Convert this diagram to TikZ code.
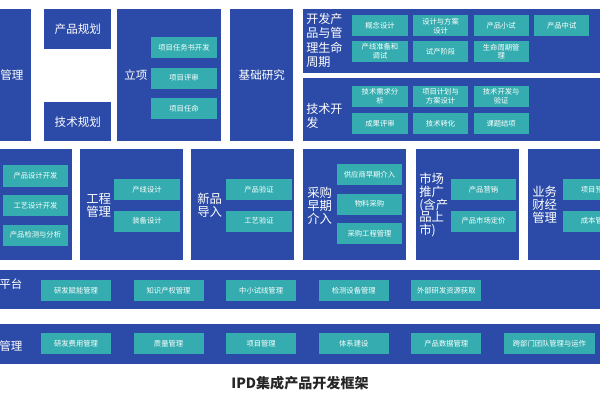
\documentclass[tikz,border=0pt]{standalone}
\usepackage{fontspec}
\setmainfont{Noto Sans CJK SC}
\usetikzlibrary{positioning}
\definecolor{ipdblue}{HTML}{2C4BA8}
\definecolor{ipdteal}{HTML}{35ADB0}
\tikzstyle{block} = [rectangle, anchor=north west, inner sep=0pt, fill=ipdblue, text=white, font=\fontsize{8.2}{10}\selectfont]
\tikzstyle{blocklabel} = [anchor=west, inner sep=0pt, align=left, text=white, font=\fontsize{8.8}{9.2}\selectfont]
\tikzstyle{item} = [rectangle, inner sep=0pt, minimum width=1.625cm, minimum height=0.525cm, align=center, fill=ipdteal, text=white, font=\fontsize{5.2}{6.2}\selectfont]
\tikzstyle{lcitem} = [item, minimum width=1.375cm]
\tikzstyle{bandi} = [item, minimum width=1.75cm]

\begin{document}
\begin{tikzpicture}[x=0.025cm, y=-0.025cm, node distance=0.2cm]
\useasboundingbox (0,0) rectangle (600,400);

% top row
\node (mgmtL) [block, minimum width=0.975cm, minimum height=3.3cm] at (-8,9) {管理};
\node (plan) [block, minimum width=1.675cm, minimum height=1cm] at (44,9) {产品规划};
\node (techplan) [block, minimum width=1.675cm, minimum height=0.975cm] at (44,102) {技术规划};

\node (lixiang) [block, minimum width=2.6cm, minimum height=3.3cm] at (117,9) {};
\node (lixiang-t) [blocklabel, font=\fontsize{8.2}{10}\selectfont] at (124,75) {立项};
\node (lx1) [item] at (184,47.5) {项目任务书开发};
\node (lx2) [item, below=0.225cm of lx1] {项目评审};
\node (lx3) [item, below=0.225cm of lx2] {项目任命};

\node (research) [block, minimum width=1.575cm, minimum height=3.3cm] at (230,9) {基础研究};

\node (lifecycle) [block, minimum width=7.675cm, minimum height=1.6cm] at (303,9) {};
\node (lifecycle-t) [blocklabel, anchor=north west, font=\fontsize{8.6}{10.3}\selectfont] at (306,13) {开发产\\品与管\\理生命\\周期};
\node (lc1) [lcitem] at (380,26) {概念设计};
\node (lc2) [lcitem, right=0.125cm of lc1] {设计与方案\\设计};
\node (lc3) [lcitem, right=0.125cm of lc2] {产品小试};
\node (lc4) [lcitem, right=0.125cm of lc3] {产品中试};
\node (lc5) [lcitem, below=0.1cm of lc1] {产线准备和\\调试};
\node (lc6) [lcitem, below=0.1cm of lc2] {试产阶段};
\node (lc7) [lcitem, below=0.1cm of lc3] {生命周期管\\理};

\node (techdev) [block, minimum width=7.675cm, minimum height=1.575cm] at (303,78) {};
\node (techdev-t) [blocklabel, font=\fontsize{8.6}{10.3}\selectfont] at (306,116) {技术开\\发};
\node (td1) [lcitem] at (380,96.5) {技术需求分\\析};
\node (td2) [lcitem, right=0.125cm of td1] {项目计划与\\方案设计};
\node (td3) [lcitem, right=0.125cm of td2] {技术开发与\\验证};
\node (td4) [lcitem, below=0.14cm of td1] {成果评审};
\node (td5) [lcitem, below=0.14cm of td2] {技术转化};
\node (td6) [lcitem, below=0.14cm of td3] {课题结项};

% middle row
\node (designL) [block, minimum width=2cm, minimum height=2.775cm] at (-8,149) {};
\node (dl1) [item] at (35.5,176) {产品设计开发};
\node (dl2) [item, below=of dl1] {工艺设计开发};
\node (dl3) [item, below=of dl2] {产品检测与分析};

\node (engineering) [block, minimum width=2.575cm, minimum height=2.775cm] at (80,149) {};
\node (engineering-t) [blocklabel] at (86,205) {工程\\管理};
\node (en1) [item] at (147,189.5) {产线设计};
\node (en2) [item, below=0.25cm of en1] {装备设计};

\node (npi) [block, minimum width=2.575cm, minimum height=2.775cm] at (191,149) {};
\node (npi-t) [blocklabel] at (197,205) {新品\\导入};
\node (np1) [item] at (259,189.5) {产品验证};
\node (np2) [item, below=0.25cm of np1] {工艺验证};

\node (purchase) [block, minimum width=2.575cm, minimum height=2.775cm] at (303,149) {};
\node (purchase-t) [blocklabel] at (307,206) {采购\\早期\\介入};
\node (pu1) [item] at (369.5,174.5) {供应商早期介入};
\node (pu2) [item, below=of pu1] {物料采购};
\node (pu3) [item, below=of pu2] {采购工程管理};

\node (market) [block, minimum width=2.575cm, minimum height=2.775cm] at (416,149) {};
\node (market-t) [blocklabel] at (419,205) {市场\\推广\\(含产\\品上\\市)};
\node (mk1) [item] at (483.5,189.5) {产品营销};
\node (mk2) [item, below=0.25cm of mk1] {产品市场定价};

\node (finance) [block, minimum width=2.05cm, minimum height=2.775cm] at (528,149) {};
\node (finance-t) [blocklabel] at (532,205) {业务\\财经\\管理};
\node (fi1) [item] at (595.5,189.5) {项目预算};
\node (fi2) [item, below=0.25cm of fi1] {成本管理};

% bottom bands
\node (platform) [block, minimum width=15.45cm, minimum height=0.975cm] at (-8,270) {};
\node (platform-t) [blocklabel, font=\fontsize{8.2}{10}\selectfont] at (-1,284) {平台};
\node (pf1) [bandi] at (76,290.5) {研发赋能管理};
\node (pf2) [bandi, right=0.55cm of pf1] {知识产权管理};
\node (pf3) [bandi, right=0.55cm of pf2] {中小试线管理};
\node (pf4) [bandi, right=0.55cm of pf3] {检测设备管理};
\node (pf5) [bandi, right=0.55cm of pf4] {外部研发资源获取};

\node (manage) [block, minimum width=15.45cm, minimum height=1cm] at (-8,324) {};
\node (manage-t) [blocklabel, font=\fontsize{8.2}{10}\selectfont] at (-1,346) {管理};
\node (mg1) [bandi] at (76,343.5) {研发费用管理};
\node (mg2) [bandi, right=0.55cm of mg1] {质量管理};
\node (mg3) [bandi, right=0.55cm of mg2] {项目管理};
\node (mg4) [bandi, right=0.55cm of mg3] {体系建设};
\node (mg5) [bandi, right=0.55cm of mg4] {产品数据管理};
\node (mg6) [bandi, minimum width=2.275cm, right=0.55cm of mg5] {跨部门团队管理与运作};

\node (title) [font=\fontsize{10}{12}\selectfont\bfseries, text=black!85] at (300,383) {IPD集成产品开发框架};
\end{tikzpicture}
\end{document}
